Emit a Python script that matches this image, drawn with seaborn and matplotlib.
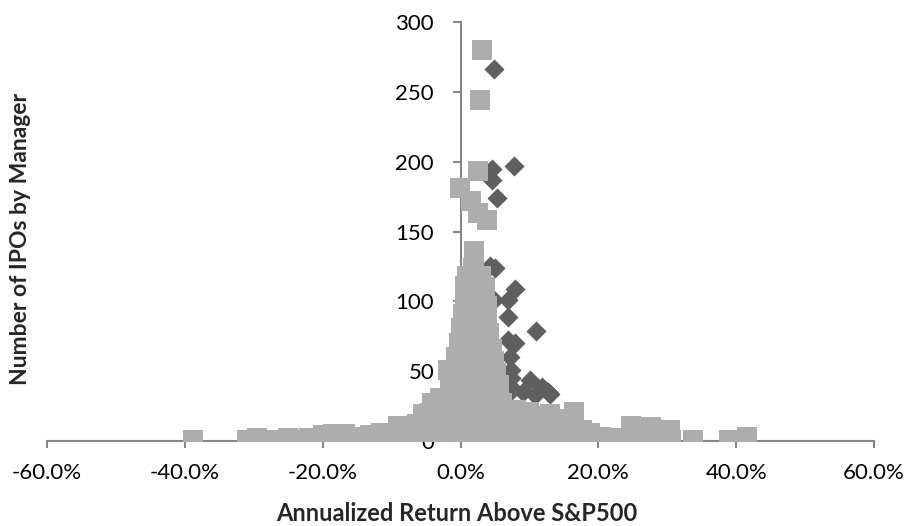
import matplotlib
matplotlib.use("Agg")
import matplotlib.pyplot as plt
import seaborn as sns
import pandas as pd
from matplotlib.ticker import FuncFormatter

# ---- data (x = annualized return above S&P500 in %, y = number of IPOs) ----
diamond_x = [4.8, 4.5, 7.8, 4.5, 5.3, 5.0, 4.3, 7.9, 6.9, 4.8, 6.9, 11.0, 7.9, 6.9,
             7.2, 7.4, 7.3, 7.4, 7.2, 10.1, 11.8, 13.0, 9.1, 10.8, 12.7]
diamond_y = [266, 195, 197, 187, 174, 124, 125, 109, 101, 101, 89, 79, 70, 72,
             60, 51, 45, 39, 35, 44, 39, 34, 35, 33, 35]

square_x = [
    3.1, 2.8, 2.6, -0.1, 1.5, 2.6, 3.8, 1.9, 1.9, 1.8,
    1.0, 2.0, 3.0,
    0.7, 1.6, 2.6, 3.5,
    0.6, 1.4, 2.3, 3.2, 3.8,
    0.3, 1.1, 2.0, 2.9, 3.8,
    0.0, 0.8, 1.7, 2.6, 3.4, 4.2,
    -0.2, 0.6, 1.5, 2.4, 3.2, 4.0, 4.6,
    -0.6, 0.3, 1.2, 2.1, 3.0, 3.9, 4.8,
    -1.8, -1.0, 0.0, 0.9, 1.8, 2.7, 3.6, 4.5, 5.2,
    -1.5, -0.6, 0.4, 1.3, 2.2, 3.1, 4.0, 4.9, 5.6,
    -4.2, -3.0, -2.0, -1.1, -0.2, 0.7, 1.6, 2.5, 3.4, 4.3, 5.2, 6.0,
    -5.5, -4.4, -3.4, -2.5, -1.5, -0.5, 0.5, 1.4, 2.4, 3.3, 4.2, 5.1, 6.1, 7.0,
    8.0, 9.0, 10.0, 10.9, 12.0, 13.0, 14.2, 16.5,
    -9.0, -7.5, -6.3, -5.0, -3.8, -2.6, -1.4, -0.3, 0.8, 1.9, 3.0, 4.1, 5.2, 6.3,
    7.4, 8.5, 9.6, 10.7, 11.8, 12.9, 14.0, 15.2, 16.4, 17.6, 24.7, 27.7, 30.4,
    -20.0, -18.5, -16.8, -15.0, -13.2, -11.5, -10.0, -8.4, -6.8, -5.2, -3.6, -2.0,
    -0.4, 1.2, 2.8, 4.4, 6.0, 7.6, 9.2, 10.8, 12.4, 14.0, 15.6, 17.2, 18.8, 20.4,
    22.0, 23.6, 25.2, 26.8, 28.0, 29.2,
    -38.8, -31.0, -29.5, -28.0, -26.5, -25.0, -23.5, -22.0, -20.5, -19.0, -17.5,
    -16.0, -14.5, -13.0, -11.5, -10.0, -8.5, -7.0, -5.5, -4.0, -2.5, -1.0, 0.5,
    2.0, 3.5, 5.0, 6.5, 8.0, 9.5, 11.0, 12.5, 14.0, 15.5, 17.0, 18.5, 20.0, 21.5,
    23.0, 24.5, 26.0, 27.5, 29.0, 30.5, 33.8, 38.9, 41.5,
]
square_y = [
    280, 244, 193, 181, 172, 163, 158, 136, 130, 124,
    118, 117, 118,
    111, 109, 112, 110,
    101, 99, 103, 100, 97,
    91, 89, 92, 88, 90,
    81, 79, 82, 78, 80, 77,
    70, 68, 72, 69, 71, 68, 66,
    60, 62, 59, 61, 58, 60, 57,
    51, 48, 52, 49, 51, 48, 50, 47, 49,
    41, 39, 42, 38, 40, 37, 41, 38, 40,
    27, 31, 29, 32, 30, 28, 31, 29, 32, 28, 30, 27,
    19, 20, 22, 18, 21, 19, 22, 20, 18, 21, 19, 22, 20, 21,
    22, 19, 21, 18, 17, 19, 16, 21,
    11, 9, 12, 10, 13, 11, 12, 10, 13, 11, 12, 10, 13, 11,
    12, 10, 13, 11, 12, 10, 11, 9, 10, 8, 11, 10, 8,
    4, 5, 5, 3, 4, 6, 5, 7, 6, 5, 4, 6,
    5, 4, 6, 5, 4, 6, 5, 4, 6, 5, 4, 5, 6, 3,
    2, 2, 6, 4, 7, 5,
    1, 1, 2, 1, 1, 2, 1, 2, 1, 2, 1,
    1, 2, 1, 2, 1, 1, 2, 1, 1, 2, 1, 1,
    2, 1, 1, 2, 1, 1, 2, 1, 1, 2, 1, 1, 2, 1,
    1, 1, 2, 1, 1, 1, 1, 1, 3,
]

x_ticks = [-60, -40, -20, 0, 20, 40, 60]
y_ticks = [0, 50, 100, 150, 200, 250, 300]

df_d = pd.DataFrame({"ret": diamond_x, "ipos": diamond_y})
df_s = pd.DataFrame({"ret": square_x, "ipos": square_y})

sns.set_style("white")
plt.rcParams["font.family"] = ["Lato", "DejaVu Sans"]

fig = plt.figure(figsize=(9.09, 5.26), dpi=100)
ax = fig.add_axes([47 / 909, 85 / 526, 827 / 909, 419 / 526])

sns.scatterplot(data=df_d, x="ret", y="ipos", marker="D", s=105, color="#5f5f5f",
                linewidth=0, ax=ax, zorder=1)
sns.scatterplot(data=df_s, x="ret", y="ipos", marker="s", s=205, color="#adadad",
                linewidth=0, ax=ax, zorder=1)

ax.set_xlim(-60, 60)
ax.set_ylim(0, 300)
ax.set_xticks(x_ticks)
ax.set_yticks(y_ticks)
ax.xaxis.set_major_formatter(FuncFormatter(lambda v, p: f"{v:.1f}%"))

for s in ["top", "right"]:
    ax.spines[s].set_visible(False)
ax.spines["left"].set_position(("data", 0))
ax.spines["bottom"].set_position(("data", 0))
for s in ["left", "bottom"]:
    ax.spines[s].set_color("#868686")
    ax.spines[s].set_linewidth(1.5)
    ax.spines[s].set_zorder(0.5)

ax.tick_params(axis="y", direction="out", length=6, width=1.5, color="#868686",
               pad=13, labelsize=16, labelcolor="black", left=True)
ax.tick_params(axis="x", direction="out", length=5, width=1.5, color="#868686",
               pad=11, labelsize=16, labelcolor="black", bottom=True)

ax.set_xlabel("")
ax.set_ylabel("")
fig.text(0.503, 0.024, "Annualized Return Above S&P500", ha="center", va="center",
         fontsize=17, fontweight="bold")
fig.text(0.023, 0.545, "Number of IPOs by Manager", ha="center", va="center",
         rotation=90, fontsize=16.5, fontweight="bold")

fig.savefig("out.png", dpi=100)
